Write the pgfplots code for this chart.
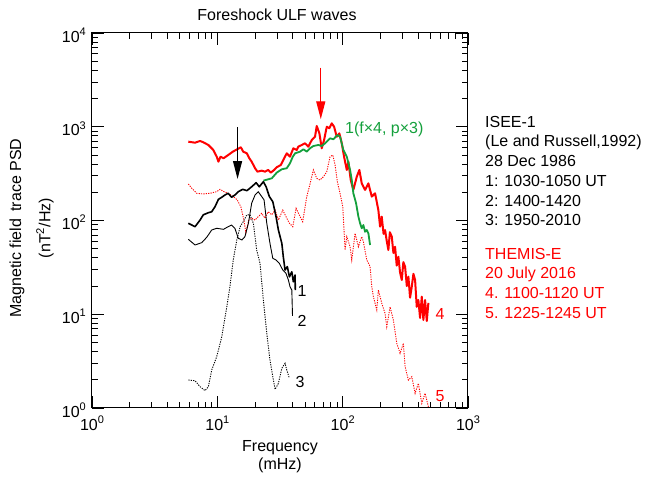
\documentclass[border=0pt]{standalone}
\usepackage{pgfplots}
\pgfplotsset{compat=1.18}
\usepackage{fontspec}
\setmainfont{Liberation Sans}
\usetikzlibrary{arrows.meta}
\definecolor{pgreen}{RGB}{20,160,60}
\newcommand{\tp}[1]{10\raisebox{0.42em}{\fontsize{11}{11}\selectfont #1}}
\begin{document}
\begin{tikzpicture}[every node/.style={font=\fontsize{16}{19.7}\selectfont}]
\begin{axis}[
  at={(0,0)}, anchor=south west,
  scale only axis, width=376pt, height=375pt,
  xmode=log, ymode=log,
  xmin=1, xmax=1000, ymin=1, ymax=10000,
  xtick={1,10,100,1000},
  xticklabels={\tp{0},\tp{1},\tp{2},\tp{3}},
  ytick={1,10,100,1000,10000},
  yticklabels={\tp{0},\tp{1},\tp{2},\tp{3},\tp{4}},
  tick label style={font=\fontsize{16}{18}\selectfont, inner sep=0pt},
  xticklabel style={anchor=north, yshift=-8pt},
  yticklabel style={anchor=east, xshift=-6pt, yshift=-2pt},
  major tick length=12pt, minor tick length=6pt,
  tick style={line width=0.8pt, black},
  axis line style={line width=1pt},
  clip=false,
]
% series 4 (THEMIS-E 1100-1120 UT)
\addplot[red, line width=2pt, line join=round] coordinates {
(5.87,693) (6.64,676) (7.28,705) (7.73,683) (8.48,639) (9.29,565) (9.89,479) (10.2,424)
(10.6,479) (11.2,461) (12.2,499) (13.3,542) (14.4,575) (15.4,604) (16.1,542) (17.2,521)
(18.0,461) (18.8,424) (20.0,361) (20.9,332) (22.6,340) (24.0,332) (25.5,346) (26.7,324)
(28.4,346) (29.8,370) (32.1,391) (33.6,442) (35.8,521) (38.0,479) (40.4,589) (43.0,565)
(44.3,613) (47.2,639) (50.1,666) (53.2,613) (56.7,722) (60.2,783) (62.1,1019) (65.2,851)
(68.1,589) (71.1,722) (74.7,1001) (78.3,963) (81.8,1088) (85.4,1001) (89.7,783) (94.1,851)
(98.4,666) (102.6,479) (107.9,346) (111.1,424) (116.0,270) (121.7,212) (129.6,293) (135.9,346)
(142.0,249) (150.9,212) (160.4,249) (170.7,180) (181.4,195) (192.7,129) (198.9,86) (205,110)
(212,72) (218,79) (225,60) (231.6,48.4) (238,75) (246.6,67.2) (254,45) (262,52.5) (270,33)
(278.3,41.1) (287,28) (296.3,23.2) (305,36) (314.8,32.2) (325,20) (334.5,25.2) (345,15)
(356,19.7) (367,27) (378.4,23.2) (390,12) (401.8,14.2) (414.7,9.12) (427.8,15.4) (440.6,8.68)
(454.6,14.2) (469,8.47) (483,13.2)
};
% series 5 (THEMIS-E 1225-1245 UT)
\addplot[red, line width=0.9pt, dash pattern=on 1.2pt off 1.2pt] coordinates {
(5.87,245) (6.25,221) (6.85,195) (7.73,192) (8.74,195) (9.89,203) (10.5,215) (11.3,203)
(12.2,195) (13.4,180) (14.4,166) (15.4,140) (16.3,101) (16.9,74.1) (17.8,101) (18.8,106)
(20.0,101) (21.2,110) (22.6,119) (24.0,106) (25.5,124) (27.2,115) (28.9,129) (30.7,101)
(33.3,129) (35.3,110) (37.6,93.4) (40.0,85.9) (42.5,135) (45.7,110) (48.0,97.1) (51.7,180)
(54.2,229) (58.4,346) (62.1,282) (66.0,270) (70.2,293) (74.7,332) (79.3,479) (83.4,499)
(87.0,391) (90.7,259) (95.3,195) (100.2,140) (104.5,48.4) (107.9,67.2) (114.6,52.5)
(118.2,37.9) (125.6,73.0) (133.5,52.5) (142.0,67.2) (146.3,59.4) (155.7,37.9) (165.5,32.2)
(170.7,19.7) (175.8,15.4) (187.2,11.1) (192.7,18.1) (205.1,13.1) (218,10.2) (224.9,7.36)
(238.9,12.0) (253.9,8.68) (270.2,4.90) (287.1,3.83) (305.1,4.90) (314.8,2.76) (334.5,1.99)
(356,2.16) (378.4,1.435) (401.8,1.83) (427.8,1.12) (454.6,1.435) (483,1.03)
};
% series 1 (f x4, p x3), green
\addplot[pgreen, line width=1.8pt, line join=round] coordinates {
(23.3,266) (27.2,282) (29.8,324) (32.7,352) (35.8,361) (38.0,408) (40.0,479) (41.7,521)
(45.7,542) (48.6,575) (51.7,542) (54.9,589) (58.4,623) (64.0,639) (68.1,623) (72.4,666)
(79.3,753) (84.3,735) (90.7,817) (95.3,783) (101.3,565) (107.9,479) (114.6,346) (118.2,270)
(121.7,195) (127.9,153) (133.5,110) (137.7,93.4) (142.0,82.6) (146.3,89.5) (150.9,75.9)
(155.7,79.2) (160.4,73.0) (165.5,54.8)
};
% series 1 (ISEE-1 1030-1050 UT)
\addplot[black, line width=1.6pt, line join=round] coordinates {
(5.87,93.4) (6.64,85.9) (7.28,101) (7.73,115) (8.48,121) (9.02,124) (9.58,140) (10.2,168)
(10.85,177) (11.5,187) (12.2,195) (13.0,177) (13.8,187) (14.7,203) (15.95,215) (17.2,208)
(18.8,229) (20.4,253) (21.6,229) (23.3,259) (24.5,229) (26.0,180) (27.7,159) (29.4,110)
(30.7,79.2) (32.7,57.1) (33.6,41.1) (34.7,29.6) (36.2,32.2) (37.6,25.0) (39.3,28.4)
(40.4,22.2) (41.7,26.2) (41.9,18.1)
};
% series 2 (1400-1420)
\addplot[black, line width=0.9pt, line join=round] coordinates {
(5.87,63.0) (6.64,54.8) (7.51,58.0) (8.23,66.2) (9.02,79.2) (9.89,82.6) (11.2,80.5)
(12.2,85.9) (13.0,89.5) (13.8,82.6) (14.7,64.6) (15.7,61.9) (16.6,67.2) (17.7,93.4)
(18.8,153) (20.0,187) (21.2,203) (22.6,180) (23.6,166) (24.8,93.4) (26.3,57.1) (27.7,39.5)
(29.4,37.9) (31.2,35.0) (33.3,29.6) (35.3,27.3) (36.9,23.2) (38.0,19.7) (39.3,18.1) (39.8,9.6)
};
% series 3 (1950-2010)
\addplot[black, line width=0.9pt, dash pattern=on 1.2pt off 1.2pt] coordinates {
(5.87,1.99) (6.64,1.955) (7.28,1.687) (7.98,1.53) (8.48,1.687) (9.02,2.54) (9.89,3.53)
(10.85,5.76) (11.9,12.0) (12.6,19.7) (13.4,37.9) (14.3,61.9) (15.2,85.9) (16.1,97.1)
(17.2,115) (18.2,115) (19.4,93.4) (20.6,48.4) (21.9,35.0) (23.3,14.2) (24.8,6.26)
(26.3,3.25) (27.7,2.16) (28.9,1.58) (30.7,1.83) (32.7,2.65) (34.7,3.00) (35.8,2.54) (37.6,2.07)
};
% arrows
\draw[black, line width=1.2pt, -{Triangle[length=18pt,width=9pt]}] (axis cs:14.5,986) -- (axis cs:14.5,277);
\draw[red, line width=1.4pt, -{Triangle[length=18pt,width=9pt]}] (axis cs:66.9,4266) -- (axis cs:66.9,1202);
\end{axis}
% curve labels (pt coordinates, axis box from (0,0) to (376pt,375pt))
\node[anchor=base, inner sep=0pt] at (210pt,111.3pt) {1};
\node[anchor=base, inner sep=0pt] at (210pt,81.3pt) {2};
\node[anchor=base, inner sep=0pt] at (208pt,20pt) {3};
\node[anchor=base, inner sep=0pt, red] at (348pt,88pt) {4};
\node[anchor=base, inner sep=0pt, red] at (348pt,6pt) {5};
\node[anchor=base west, inner sep=0pt, pgreen] at (253pt,274pt) {1(f×4, p×3)};
% title and axis labels
\node[anchor=base, inner sep=0pt] at (185pt,387pt) {Foreshock ULF waves};
\node[anchor=base, inner sep=0pt] at (188pt,-43.7pt) {Frequency};
\node[anchor=base, inner sep=0pt] at (188pt,-62pt) {(mHz)};
\node[rotate=90, inner sep=0pt] at (-75pt,180pt) {Magnetic field\, trace PSD};
\node[rotate=90, inner sep=0pt] at (-47pt,180pt) {(nT\textsuperscript{2}/Hz)};
% right-hand text
\node[anchor=base west, inner sep=0pt] at (393pt,280.7pt) {ISEE-1};
\node[anchor=base west, inner sep=0pt] at (393pt,261pt) {(Le and Russell,1992)};
\node[anchor=base west, inner sep=0pt] at (393pt,241.3pt) {28 Dec 1986};
\node[anchor=base west, inner sep=0pt] at (393pt,221.6pt) {1: 1030-1050 UT};
\node[anchor=base west, inner sep=0pt] at (393pt,201.9pt) {2: 1400-1420};
\node[anchor=base west, inner sep=0pt] at (393pt,182.2pt) {3: 1950-2010};
\node[anchor=base west, inner sep=0pt, red] at (393pt,148.7pt) {THEMIS-E};
\node[anchor=base west, inner sep=0pt, red] at (393pt,129pt) {20 July 2016};
\node[anchor=base west, inner sep=0pt, red] at (393pt,109.3pt) {4. 1100-1120 UT};
\node[anchor=base west, inner sep=0pt, red] at (393pt,89.6pt) {5. 1225-1245 UT};
\pgfresetboundingbox
\path (-92pt,-70pt) rectangle (556pt,408pt);
\end{tikzpicture}
\end{document}
